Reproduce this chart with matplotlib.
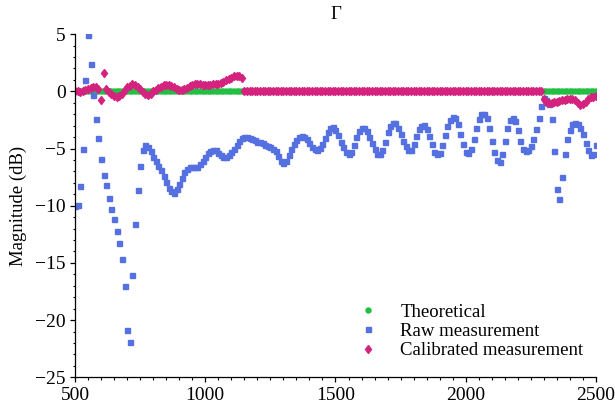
import numpy as np
import matplotlib
matplotlib.use("Agg")
import matplotlib.pyplot as plt
from matplotlib.ticker import MultipleLocator

# Frequency grid (MHz)
freq = np.arange(500, 2501, 10)

theoretical = [0.0] * 201

raw_measurement = [
    -10.0, -9.9, -8.3, -5.0, 1.0, 4.9, 2.4, -0.3, -2.4, -4.1,
    -5.9, -7.3, -8.2, -9.3, -10.3, -11.2, -12.2, -13.3, -14.7, -17.0,
    -20.9, -21.9, -16.1, -11.6, -8.6, -6.5, -5.1, -4.7, -4.9, -5.25,
    -5.7, -6.1, -6.5, -6.9, -7.4, -7.95, -8.45, -8.75, -8.85, -8.55,
    -8.1, -7.55, -7.05, -6.75, -6.65, -6.6, -6.6, -6.65, -6.35, -6.05,
    -5.7, -5.4, -5.2, -5.1, -5.15, -5.35, -5.55, -5.7, -5.75, -5.6,
    -5.3, -5.0, -4.65, -4.3, -4.1, -4.03, -4.03, -4.08, -4.17, -4.29,
    -4.4, -4.45, -4.55, -4.65, -4.75, -4.85, -5.0, -5.25, -5.65, -6.05,
    -6.25, -6.1, -5.6, -5.05, -4.6, -4.25, -4.0, -3.9, -3.95, -4.15,
    -4.5, -4.85, -5.05, -5.1, -4.95, -4.6, -4.1, -3.6, -3.2, -3.15,
    -3.4, -3.8, -4.4, -4.9, -5.3, -5.5, -5.3, -4.7, -4.0, -3.5,
    -3.2, -3.25, -3.5, -3.95, -4.5, -5.0, -5.45, -5.5, -5.1, -4.4,
    -3.6, -3.0, -2.75, -2.8, -3.2, -3.75, -4.3, -4.8, -5.15, -5.1,
    -4.6, -3.9, -3.3, -3.0, -2.95, -3.3, -3.9, -4.6, -5.3, -5.5,
    -5.4, -4.7, -3.8, -3.0, -2.5, -2.25, -2.35, -2.9, -3.7, -4.6,
    -5.3, -5.4, -5.0, -4.2, -3.2, -2.4, -2.0, -1.95, -2.35, -3.2,
    -4.3, -5.3, -6.0, -6.2, -5.5, -4.3, -3.2, -2.5, -2.3, -2.6,
    -3.4, -4.3, -5.0, -5.2, -5.15, -4.8, -4.2, -3.3, -2.3, -1.3,
    -0.6, -0.8, -1.1, -2.4, -5.2, -8.5, -9.4, -7.5, -5.45, -4.15,
    -3.35, -2.9, -2.75, -2.9, -3.25, -3.75, -4.5, -5.1, -5.6, -5.5,
    -4.7,
]

calibrated_measurement = [
    0.0, 0.0, -0.03, 0.03, 0.08, 0.2, 0.28, 0.4, 0.35, 0.2,
    -0.73, 1.6, 0.2, -0.05, -0.25, -0.38, -0.5, -0.4, -0.2, 0.15,
    0.35, 0.5, 0.6, 0.55, 0.4, 0.2, -0.1, -0.25, -0.3, -0.2,
    0.0, 0.1, 0.3, 0.4, 0.55, 0.58, 0.55, 0.45, 0.35, 0.2,
    0.15, 0.15, 0.2, 0.3, 0.45, 0.55, 0.62, 0.62, 0.6, 0.58,
    0.58, 0.57, 0.56, 0.6, 0.64, 0.68, 0.75, 0.85, 0.98, 1.1,
    1.2, 1.3, 1.35, 1.3, 1.15,
] + [0.0] * 115 + [
    -0.7, -0.95, -1.0, -1.0, -0.95, -0.9, -0.85, -0.8, -0.75, -0.7,
    -0.65, -0.7, -0.8, -1.0, -1.2, -1.15, -0.9, -0.65, -0.5, -0.5,
    -0.45,
]

series_labels = ["Theoretical", "Raw measurement", "Calibrated measurement"]
title_text = "Γ"
ylabel_text = "Magnitude (dB)"

plt.rcParams["font.family"] = ["Liberation Serif", "DejaVu Serif"]
plt.rcParams["font.size"] = 13

fig = plt.figure(figsize=(6.15, 4.13), dpi=100)
ax = fig.add_axes([0.122, 0.0864, 0.847, 0.831])

ax.plot(freq, theoretical, linestyle="none", marker="o", ms=3.6,
        color="#22bf42", label=series_labels[0])
ax.plot(freq, raw_measurement, linestyle="none", marker="s", ms=3.6,
        color="#5570e0", label=series_labels[1])
ax.plot(freq, calibrated_measurement, linestyle="none", marker="d", ms=4.3,
        color="#d4237f", label=series_labels[2])

ax.set_xlim(500, 2500)
ax.set_ylim(-25, 5)
ax.xaxis.set_major_locator(MultipleLocator(500))
ax.xaxis.set_minor_locator(MultipleLocator(50))
ax.yaxis.set_major_locator(MultipleLocator(5))
ax.yaxis.set_minor_locator(MultipleLocator(1))
for s in ("top", "right"):
    ax.spines[s].set_visible(False)
for s in ("left", "bottom"):
    ax.spines[s].set_linewidth(0.9)
ax.tick_params(which="major", direction="out", length=3.3, width=0.9, labelsize=14)
ax.tick_params(which="minor", direction="out", length=1.8, width=0.8)

ax.set_title(title_text, fontsize=13.5, pad=11)
ax.set_ylabel(ylabel_text, fontsize=13.5, labelpad=6)

ax.legend(loc="upper left", bbox_to_anchor=(0.545, 0.215), frameon=False,
          numpoints=1, handlelength=1.0, handletextpad=1.2,
          labelspacing=0.12, borderpad=0, borderaxespad=0, fontsize=13.5)

fig.savefig("out.png", dpi=100)
